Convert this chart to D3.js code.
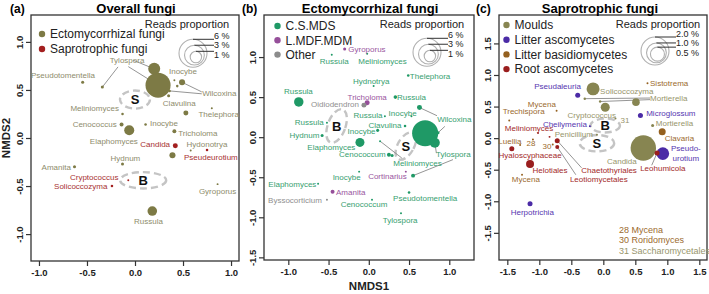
<!DOCTYPE html>
<html>
<head>
<meta charset="utf-8">
<script src="https://cdn.jsdelivr.net/npm/d3@7"></script>
<style>
body { margin: 0; background: #fff; }
svg text { font-family: "Liberation Sans", Arial, sans-serif; }
</style>
</head>
<body>
<svg id="chart" width="709" height="294"></svg>
<script>
// ---------- (a) Overall fungi: [genus, guild, NMDS1, NMDS2, reads %]
const overallPoints = [
  ["Tylospora", "E", 0.24, 0.55, 4.8],
  ["Tylospora", "E", 0.20, 0.72, 1.1],
  ["Tylospora", "E", -0.34, 0.53, 0.07],
  ["Pseudotomentella", "E", -0.545, 0.58, 0.07],
  ["Inocybe", "E", 0.41, 0.60, 0.03],
  ["Inocybe", "E", 0.44, 0.54, 0.05],
  ["Wilcoxina", "E", 0.49, 0.58, 0.28],
  ["Wilcoxina", "E", 0.36, 0.49, 0.05],
  ["Clavulina", "E", 0.35, 0.44, 0.07],
  ["Meliniomyces", "E", -0.13, 0.25, 0.05],
  ["Thelephora", "E", 0.80, 0.31, 0.03],
  ["Thelephora", "E", 0.53, 0.26, 0.19],
  ["Cenococcus", "E", -0.14, 0.14, 0.12],
  ["Elaphomyces", "E", -0.06, 0.08, 0.77],
  ["Inocybe", "E", 0.11, 0.14, 0.05],
  ["Tricholoma", "E", 0.41, 0.07, 0.12],
  ["Candida", "S", 0.42, -0.08, 0.19],
  ["Hydonotrya", "E", 0.58, -0.13, 0.03],
  ["Hydonotrya", "E", 0.39, -0.18, 0.28],
  ["Pseudeurotium", "S", 0.75, -0.125, 0.05],
  ["Hydnum", "E", -0.13, -0.27, 0.07],
  ["Amanita", "E", -0.63, -0.30, 0.07],
  ["Cryptococcus", "S", -0.07, -0.44, 0.03],
  ["Solicoccozyma", "S", -0.24, -0.50, 0.05],
  ["Gyroporus", "E", 0.86, -0.48, 0.03],
  ["Russula", "E", 0.18, -0.76, 0.7]
];
const overallLabels = [
  ["Pseudotomentella", "E", -0.75, 0.656, "middle"],
  ["Tylospora", "E", -0.083, 0.81, "middle"],
  ["Inocybe", "E", 0.50, 0.69, "middle"],
  ["Wilcoxina", "E", 0.70, 0.465, "start"],
  ["Clavulina", "E", 0.29, 0.365, "start"],
  ["Meliniomyces", "E", -0.42, 0.31, "middle"],
  ["Thelephora", "E", 0.66, 0.25, "start"],
  ["Cenococcus", "E", -0.42, 0.146, "middle"],
  ["Inocybe", "E", 0.156, 0.156, "start"],
  ["Tricholoma", "E", 0.45, 0.05, "start"],
  ["Elaphomyces", "E", -0.22, -0.03, "middle"],
  ["Candida", "S", 0.21, -0.06, "middle"],
  ["Hydonotrya", "E", 0.75, -0.06, "middle"],
  ["Pseudeurotium", "S", 0.79, -0.195, "middle"],
  ["Hydnum", "E", -0.10, -0.21, "middle"],
  ["Amanita", "E", -0.82, -0.305, "middle"],
  ["Cryptococcus", "S", -0.425, -0.41, "middle"],
  ["Solicoccozyma", "S", -0.565, -0.497, "middle"],
  ["Gyroporus", "E", 0.86, -0.55, "middle"],
  ["Russula", "E", 0.14, -0.87, "middle"]
];
// leader lines: [label end NMDS1, NMDS2, point index]
const overallLeaders = [
  [-0.177, 0.74, 2], [-0.07, 0.743, 0], [-0.02, 0.81, 1],
  [0.695, 0.48, 6], [0.695, 0.46, 7]
];
// compartment centroids: [name, NMDS1, NMDS2, rx, ry, rotation]
const overallGroups = [["S", 0.0, 0.40, 0.156, 0.094, 0], ["B", 0.085, -0.44, 0.24, 0.085, 0]];
const overallLegend = [["Ectomycorrhizal fungi", "E"], ["Saprotrophic fungi", "S"]];

// ---------- (b) Ectomycorrhizal fungi
const ectoPoints = [
  ["Gyroporus", "L", -0.30, 1.10, 0.07],
  ["Russula", "C", -0.46, 1.03, 0.03],
  ["Meliniomyces", "C", -0.02, 1.04, 0.03],
  ["Thelephora", "C", 0.49, 0.77, 0.05],
  ["Hydnotrya", "C", 0.06, 0.64, 0.03],
  ["Russula", "C", -0.87, 0.44, 0.68],
  ["Russula", "C", 0.33, 0.50, 0.1],
  ["Tricholoma", "L", -0.02, 0.43, 0.19],
  ["Oidiodendron", "O", -0.06, 0.40, 0.19],
  ["Wilcoxina", "C", 0.63, 0.37, 0.19],
  ["Russula", "C", 0.20, 0.26, 0.03],
  ["Inocybe", "C", 0.53, 0.26, 0.03],
  ["Clavulina", "C", 0.45, 0.14, 0.05],
  ["Russula", "C", -0.52, 0.18, 0.03],
  ["Hydnum", "C", -0.58, 0.02, 0.07],
  ["Inocybe", "C", 0.11, 0.085, 0.07],
  ["Elaphomyces", "C", -0.11, -0.065, 0.62],
  ["Tylospora", "C", 0.70, 0.05, 5.2],
  ["Tylospora", "C", 0.82, -0.07, 0.77],
  ["Wilcoxina", "C", 0.86, 0.055, 0.07],
  ["Cenococcum", "C", 0.25, -0.22, 0.12],
  ["Cenococcum", "C", 0.29, -0.23, 0.07],
  ["Meliniomyces", "C", 0.14, -0.05, 0.03],
  ["Tylospora", "C", 0.55, -0.48, 0.12],
  ["Inocybe", "C", -0.12, -0.43, 0.03],
  ["Cortinarius", "L", 0.46, -0.43, 0.03],
  ["Elaphomyces", "C", -0.63, -0.58, 0.03],
  ["Amanita", "L", -0.45, -0.68, 0.12],
  ["Byssocorticium", "O", -0.52, -0.78, 0.03],
  ["Cenococcum", "C", 0.04, -0.78, 0.03],
  ["Pseudotomentella", "C", 0.50, -0.69, 0.05],
  ["Tylospora", "C", 0.40, -0.95, 0.03]
];
const ectoLabels = [
  ["Gyroporus", "L", -0.255, 1.10, "start"],
  ["Russula", "C", -0.43, 0.95, "middle"],
  ["Meliniomyces", "C", 0.17, 0.945, "middle"],
  ["Thelephora", "C", 0.51, 0.757, "start"],
  ["Hydnotrya", "C", 0.03, 0.70, "middle"],
  ["Russula", "C", -0.875, 0.58, "middle"],
  ["Tricholoma", "L", -0.02, 0.50, "middle"],
  ["Russula", "C", 0.35, 0.50, "start"],
  ["Oidiodendron", "O", -0.42, 0.41, "middle"],
  ["Wilcoxina", "C", 0.85, 0.22, "start"],
  ["Russula", "C", -0.01, 0.28, "middle"],
  ["Inocybe", "C", 0.42, 0.30, "middle"],
  ["Clavulina", "C", 0.20, 0.155, "middle"],
  ["Russula", "C", -0.74, 0.184, "middle"],
  ["Hydnum", "C", -0.80, 0.02, "middle"],
  ["Inocybe", "C", -0.09, 0.07, "middle"],
  ["Elaphomyces", "C", -0.465, -0.127, "middle"],
  ["Cenococcum", "C", -0.08, -0.218, "middle"],
  ["Meliniomyces", "C", 0.605, -0.32, "middle"],
  ["Tylospora", "C", 1.05, -0.218, "middle"],
  ["Inocybe", "C", -0.275, -0.495, "middle"],
  ["Cortinarius", "L", 0.232, -0.488, "middle"],
  ["Elaphomyces", "C", -0.95, -0.583, "middle"],
  ["Amanita", "L", -0.407, -0.683, "start"],
  ["Byssocorticium", "O", -0.917, -0.79, "middle"],
  ["Cenococcum", "C", -0.06, -0.84, "middle"],
  ["Pseudotomentella", "C", 0.70, -0.757, "middle"],
  ["Tylospora", "C", 0.39, -1.04, "middle"]
];
const ectoLeaders = [
  [0.847, 0.268, 9], [0.945, 0.135, 19],
  [0.84, -0.20, 18], [1.046, -0.28, 23],
  [0.41, -0.26, 22]
];
const ectoGroups = [["B", -0.40, 0.14, 0.11, 0.22, 20], ["S", 0.46, -0.11, 0.10, 0.19, 30]];
const ectoLegend = [["C.S.MDS", "C"], ["L.MDF.MDM", "L"], ["Other", "O"]];

// ---------- (c) Saprotrophic fungi
const saproPoints = [
  ["Sistotrema", "B", 0.69, 0.87, 0.01],
  ["Pseudaleuria", "A", -0.40, 0.68, 0.064],
  ["Solicoccozyma", "M", -0.16, 0.78, 0.43],
  ["Mortierella", "M", 0.51, 0.57, 0.147],
  ["Mortierella", "M", -0.29, 0.625, 0.015],
  ["Mortierella", "M", -0.05, 0.58, 0.015],
  ["Mycena", "B", -0.73, 0.435, 0.01],
  ["Cryptococcus", "M", 0.03, 0.49, 0.207],
  ["Microglossum", "A", 0.58, 0.36, 0.064],
  ["Trechispora", "B", -1.47, 0.28, 0.01],
  ["Saccharomycetales", "M", 0.19, 0.31, 0.01],
  ["Cheilymenia", "A", -0.21, 0.19, 0.01],
  ["Mortierella", "M", 0.77, 0.20, 0.023],
  ["Meliniomyces", "R", -1.02, 0.08, 0.01],
  ["Meliniomyces", "R", -0.84, 0.02, 0.01],
  ["Penicillium", "M", -0.10, 0.055, 0.01],
  ["Clavaria", "B", 0.92, 0.10, 0.125],
  ["Luellia", "B", -1.30, -0.11, 0.01],
  ["Mycena", "B", -1.10, -0.02, 0.01],
  ["Hyaloscyphaceae", "R", -1.43, -0.17, 0.064],
  ["Roridomyces", "B", -0.79, -0.10, 0.01],
  ["Chaetothyriales", "R", -0.72, -0.04, 0.064],
  ["Leotiomycetales", "R", -0.72, -0.14, 0.041],
  ["Candida", "M", 0.625, -0.157, 1.65],
  ["Pseudeurotium", "A", 0.93, -0.245, 0.405],
  ["Leohumicola", "R", 0.84, -0.235, 0.064],
  ["Helotiales", "R", -1.145, -0.41, 0.163],
  ["Mycena", "B", -1.27, -0.58, 0.01],
  ["Herpotrichia", "A", -1.145, -1.04, 0.064]
];
const saproLabels = [
  ["Sistotrema", "B", 0.73, 0.87, "start"],
  ["Pseudaleuria", "A", -0.715, 0.82, "middle"],
  ["Solicoccozyma", "M", -0.05, 0.75, "start"],
  ["Mortierella", "M", 0.73, 0.635, "start"],
  ["Mycena", "B", -0.96, 0.53, "middle"],
  ["Cryptococcus", "M", -0.18, 0.356, "middle"],
  ["Microglossum", "A", 0.67, 0.39, "start"],
  ["Trechispora", "B", -1.245, 0.424, "middle"],
  ["31", "M", 0.27, 0.277, "start"],
  ["Cheilymenia", "A", -0.60, 0.223, "middle"],
  ["Mortierella", "M", 0.82, 0.23, "start"],
  ["Meliniomyces", "R", -1.16, 0.15, "middle"],
  ["Penicillium", "M", -0.46, 0.055, "middle"],
  ["Clavaria", "B", 0.96, 0.0, "start"],
  ["Luellia", "B", -1.46, -0.05, "middle"],
  ["28", "B", -1.13, -0.085, "middle"],
  ["30", "B", -0.88, -0.135, "middle"],
  ["Hyaloscyphaceae", "R", -1.145, -0.275, "middle"],
  ["Helotiales", "R", -0.833, -0.514, "middle"],
  ["Mycena", "B", -1.21, -0.657, "middle"],
  ["Chaetothyriales", "R", 0.09, -0.514, "middle"],
  ["Leotiomycetales", "R", -0.07, -0.647, "middle"],
  ["Candida", "M", 0.29, -0.367, "middle"],
  ["Leohumicola", "R", 0.93, -0.483, "middle"],
  ["Pseudo-", "A", 1.29, -0.166, "middle"],
  ["urotium", "A", 1.29, -0.324, "middle"],
  ["Herpotrichia", "A", -1.11, -1.17, "middle"]
];
const saproLeaders = [
  [0.73, 0.635, 4], [0.73, 0.61, 5],
  [-0.34, -0.47, 21], [-0.43, -0.58, 22],
  [0.52, -0.32, 23], [0.756, -0.43, 25]
];
const saproGroups = [["S", -0.10, -0.08, 0.27, 0.13, 0], ["B", 0.03, 0.20, 0.23, 0.11, 0]];
const saproLegend = [["Moulds", "M"], ["Litter ascomycetes", "A"], ["Litter basidiomycetes", "B"], ["Root ascomycetes", "R"]];
const saproNotes = [["28 Mycena", "B"], ["30 Roridomyces", "B"], ["31 Saccharomycetales", "M"]];

const ectoKeys = [6, 3, 1];
const saproKeys = [2.0, 1.0, 0.5];

const svg = d3.select("#chart");

function drawPanel(o) {
  const x = d3.scaleLinear().domain(o.xDomain).range([o.left, o.right]);
  const y = d3.scaleLinear().domain(o.yDomain).range([o.bottom, o.top]);
  const r = d3.scaleSqrt().domain([0, o.keys[0]]).range([0, 14]);
  const g = svg.append("g");

  // axes
  const xa = g.append("g").attr("transform", `translate(0,${o.bottom})`)
    .call(d3.axisBottom(x).tickValues(o.xTicks).tickSize(5).tickPadding(3).tickFormat(d => d.toFixed(1)));
  const ya = g.append("g").attr("transform", `translate(${o.left},0)`)
    .call(d3.axisLeft(y).tickValues(o.yTicks).tickSize(5).tickFormat(d => d.toFixed(1)));
  [xa, ya].forEach(a => {
    a.select(".domain").remove();
    a.selectAll("line").attr("stroke", "#333").attr("stroke-width", 1.2);
    a.selectAll("text").attr("font-family", "Liberation Sans, Arial, sans-serif")
      .attr("font-size", 9.5).attr("font-weight", "bold").attr("fill", "#222");
  });
  ya.selectAll("text").attr("transform", "rotate(-90)")
    .attr("x", 0).attr("y", -8).attr("dy", 0).attr("text-anchor", "middle");

  g.append("rect").attr("x", o.left).attr("y", o.top)
    .attr("width", o.right - o.left).attr("height", o.bottom - o.top)
    .attr("fill", "none").attr("stroke", "#333").attr("stroke-width", 1.3);

  // titles
  g.append("text").attr("x", o.tagX).attr("y", 13).attr("font-size", 12)
    .attr("font-weight", "bold").text(o.tag);
  g.append("text").attr("x", o.titleX).attr("y", 13).attr("font-size", 13)
    .attr("font-weight", "bold").attr("text-anchor", "middle").text(o.title);

  // centroid ellipses
  o.groups.forEach(c => {
    const cx = x(c[1]), cy = y(c[2]);
    g.append("ellipse").attr("cx", cx).attr("cy", cy)
      .attr("rx", x(c[3]) - x(0)).attr("ry", y(0) - y(c[4]))
      .attr("transform", `rotate(${c[5]},${cx},${cy})`)
      .attr("fill", "none").attr("stroke", "#c4c4c4").attr("stroke-width", 2.4)
      .attr("stroke-dasharray", "7,4");
    g.append("text").attr("x", cx).attr("y", cy).attr("dy", "0.36em")
      .attr("text-anchor", "middle").attr("font-size", 13).attr("font-weight", "bold")
      .attr("fill", "#111").text(c[0]);
  });

  // leader lines
  g.selectAll(".leader").data(o.leaders).enter().append("line")
    .attr("x1", d => x(d[0])).attr("y1", d => y(d[1]))
    .attr("x2", d => x(o.points[d[2]][2])).attr("y2", d => y(o.points[d[2]][3]))
    .attr("stroke", "#7a7a7a").attr("stroke-width", 0.8);

  // points, biggest first
  const sorted = o.points.slice().sort((a, b) => b[4] - a[4]);
  g.selectAll(".pt").data(sorted).enter().append("circle")
    .attr("cx", d => x(d[2])).attr("cy", d => y(d[3]))
    .attr("r", d => r(d[4])).attr("fill", d => o.colors[d[1]]);

  // genus labels
  g.selectAll(".lab").data(o.labels).enter().append("text")
    .attr("x", d => x(d[2])).attr("y", d => y(d[3])).attr("dy", "0.35em")
    .attr("text-anchor", d => d[4]).attr("font-size", 8)
    .attr("fill", d => o.textColors[d[1]]).text(d => d[0]);

  // guild legend
  o.legend.forEach((l, i) => {
    const ly = o.legendY + i * o.legendStep;
    g.append("circle").attr("cx", o.legendX).attr("cy", ly).attr("r", 3.2)
      .attr("fill", o.colors[l[1]]);
    g.append("text").attr("x", o.legendX + 8).attr("y", ly).attr("dy", "0.36em")
      .attr("font-size", 12).attr("fill", "#222").text(l[0]);
  });

  // reads proportion key
  g.append("text").attr("x", o.keyTitleX).attr("y", 27.5).attr("text-anchor", "middle")
    .attr("font-size", 11).attr("fill", "#222").text("Reads proportion");
  const rmax = r(o.keys[0]);
  o.keys.forEach((k, i) => {
    const rk = r(k);
    const cx = o.keyX + (rmax - rk) * 0.35, cy = o.keyY + (rmax - rk) * 0.45;
    g.append("circle").attr("cx", cx).attr("cy", cy).attr("r", rk)
      .attr("fill", "none").attr("stroke", "#b0b0b0").attr("stroke-width", 1.1);
    g.append("line").attr("x1", cx).attr("x2", o.keyX + 21)
      .attr("y1", cy - rk).attr("y2", cy - rk).attr("stroke", "#333").attr("stroke-width", 1);
    g.append("text").attr("x", o.keyX + 21).attr("y", o.keyY - rmax - 0.5 + i * 9.6)
      .attr("font-size", 9).attr("fill", "#222").text(o.keyFmt(k) + " %");
  });

  return { g, x, y };
}

const common = { top: 15 };

drawPanel(Object.assign({}, common, {
  left: 31, right: 239, bottom: 261,
  xDomain: [-1.083, 1.083], yDomain: [-1.28, 1.28],
  xTicks: [-1, -0.5, 0, 0.5, 1], yTicks: [-1, -0.5, 0, 0.5, 1],
  tag: "(a)", tagX: 10, title: "Overall fungi", titleX: 136,
  points: overallPoints, labels: overallLabels, leaders: overallLeaders, groups: overallGroups,
  legend: overallLegend, legendX: 42, legendY: 34, legendStep: 15,
  colors: { E: "#7d7a45", S: "#a31f1f" }, textColors: { E: "#8e8c6c", S: "#a83232" },
  keys: ectoKeys, keyFmt: d => d, keyX: 193, keyY: 53.3, keyTitleX: 187
}));

drawPanel(Object.assign({}, common, {
  left: 264, right: 474, bottom: 260,
  xDomain: [-1.302, 1.307], yDomain: [-1.533, 1.525],
  xTicks: [-1, -0.5, 0, 0.5, 1], yTicks: [-1.5, -1, -0.5, 0, 0.5, 1],
  tag: "(b)", tagX: 242, title: "Ectomycorrhizal fungi", titleX: 370,
  points: ectoPoints, labels: ectoLabels, leaders: ectoLeaders, groups: ectoGroups,
  legend: ectoLegend, legendX: 277.5, legendY: 26, legendStep: 14.3,
  colors: { C: "#1f9966", L: "#964f9a", O: "#8c8c8c" }, textColors: { C: "#37a06f", L: "#9a56a0", O: "#8f8f8f" },
  keys: ectoKeys, keyFmt: d => d, keyX: 427, keyY: 52.3, keyTitleX: 422
}));

const pc = drawPanel(Object.assign({}, common, {
  left: 499, right: 707, bottom: 260,
  xDomain: [-1.63, 1.62], yDomain: [-1.93, 1.95],
  xTicks: [-1.5, -1, -0.5, 0, 0.5, 1, 1.5], yTicks: [-1.5, -1, -0.5, 0, 0.5, 1, 1.5],
  tag: "(c)", tagX: 476, title: "Saprotrophic fungi", titleX: 600,
  points: saproPoints, labels: saproLabels, leaders: saproLeaders, groups: saproGroups,
  legend: saproLegend, legendX: 506.5, legendY: 25, legendStep: 14.7,
  colors: { M: "#878551", A: "#4b2ba6", B: "#94601f", R: "#9a1e1e" }, textColors: { M: "#97956b", A: "#5636b0", B: "#9b6a2e", R: "#a32a2a" },
  keys: saproKeys, keyFmt: d => d.toFixed(1), keyX: 655, keyY: 51, keyTitleX: 658
}));

// footnote in (c)
const noteColors = { M: "#97956b", B: "#9b6a2e" };
pc.g.selectAll(".note").data(saproNotes).enter().append("text")
  .attr("x", pc.x(0.245)).attr("y", (d, i) => pc.y(-1.455) + i * 10.3).attr("dy", "0.35em")
  .attr("font-size", 9).attr("fill", d => noteColors[d[1]]).text(d => d[0]);

// axis titles
svg.append("text").attr("transform", `translate(10,138) rotate(-90)`)
  .attr("text-anchor", "middle").attr("font-size", 11.5).attr("font-weight", "bold")
  .attr("fill", "#222").text("NMDS2");
svg.append("text").attr("x", 369).attr("y", 290).attr("text-anchor", "middle")
  .attr("font-size", 11.5).attr("font-weight", "bold").attr("fill", "#222").text("NMDS1");
</script>
</body>
</html>
